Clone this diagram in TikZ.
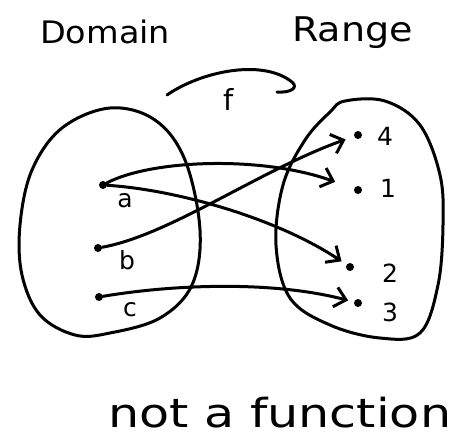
\documentclass[tikz,border=0pt]{standalone}
\usepackage{fontspec}
\setmainfont{DejaVu Sans}
\usetikzlibrary{arrows.meta}
\tikzset{
  pen/.style={line width=3pt, line cap=round, line join=round},
  elem/.style={circle, fill=black, inner sep=0pt, minimum size=8pt},
  lbl/.style={inner sep=0pt, font=\fontsize{25}{28}\selectfont},
  maps/.style={pen, -{Straight Barb[length=11pt,width=20pt,line width=3pt]}},
}
\begin{document}
\begin{tikzpicture}[x=1pt,y=-1pt]
\useasboundingbox (0,0) rectangle (464,440);
% titles
\node[anchor=base west, inner sep=0pt, font=\fontsize{31}{34}\selectfont] (dom) at (40,43) {\scalebox{1.08}[1]{Domain}};
\node[anchor=base west, inner sep=0pt, font=\fontsize{34}{36}\selectfont] (ran) at (292,41) {\scalebox{1.12}[1]{Range}};
% sets
\draw[pen] plot[smooth cycle, tension=0.6] coordinates {(110,108) (155,120) (185,160) (200,230) (192,285) (160,318) (110,333) (75,335) (40,315) (22,275) (20,225) (32,170) (62,128)};
\draw[pen] plot[smooth cycle, tension=0.6] coordinates {(345,101) (385,101) (420,125) (440,175) (443,225) (438,285) (420,333) (380,338) (330,325) (290,298) (276,245) (283,185) (305,140) (330,112)};
% f arrow
\coordinate (fs) at (167,95);
\coordinate (fe) at (292,82);
\coordinate (fh) at (277,92);
\draw[pen] (fs) .. controls (200,72) and (262,58) .. (fe) .. controls (299,88) and (290,93) .. (fh);
\node[lbl, font=\fontsize{29}{30}\selectfont] (flbl) at (229,99) {f};
% domain elements
\node[elem] (a) at (103,185) {};
\node[elem] (b) at (98,248) {};
\node[elem] (c) at (99,297) {};
\node[lbl] (la) at (125,201) {a};
\node[lbl] (lb) at (127,260) {b};
\node[lbl] (lc) at (130,310) {c};
% range elements
\node[elem] (e4) at (358,135) {};
\node[elem] (e1) at (358,190) {};
\node[elem] (e2) at (350,267) {};
\node[elem] (e3) at (358,303) {};
\node[lbl] (l4) at (385,136) {4};
\node[lbl] (l1) at (388,188) {1};
\node[lbl] (l2) at (390,273) {2};
\node[lbl] (l3) at (390,312) {3};
% mappings
\draw[maps, shorten >=20pt] (a) .. controls (150,160) and (260,155) .. (e1);
\draw[maps, shorten >=6pt] (a) .. controls (180,190) and (280,220) .. (e2);
\draw[maps, shorten >=9pt] (b) .. controls (170,235) and (260,170) .. (e4);
\draw[maps, shorten >=6pt] (c) .. controls (170,285) and (270,280) .. (e3);
% caption
\node[anchor=base west, inner sep=0pt, font=\fontsize{40}{42}\selectfont] (cap) at (108,427) {\scalebox{1.23}[1]{not a function}};
\end{tikzpicture}
\end{document}
